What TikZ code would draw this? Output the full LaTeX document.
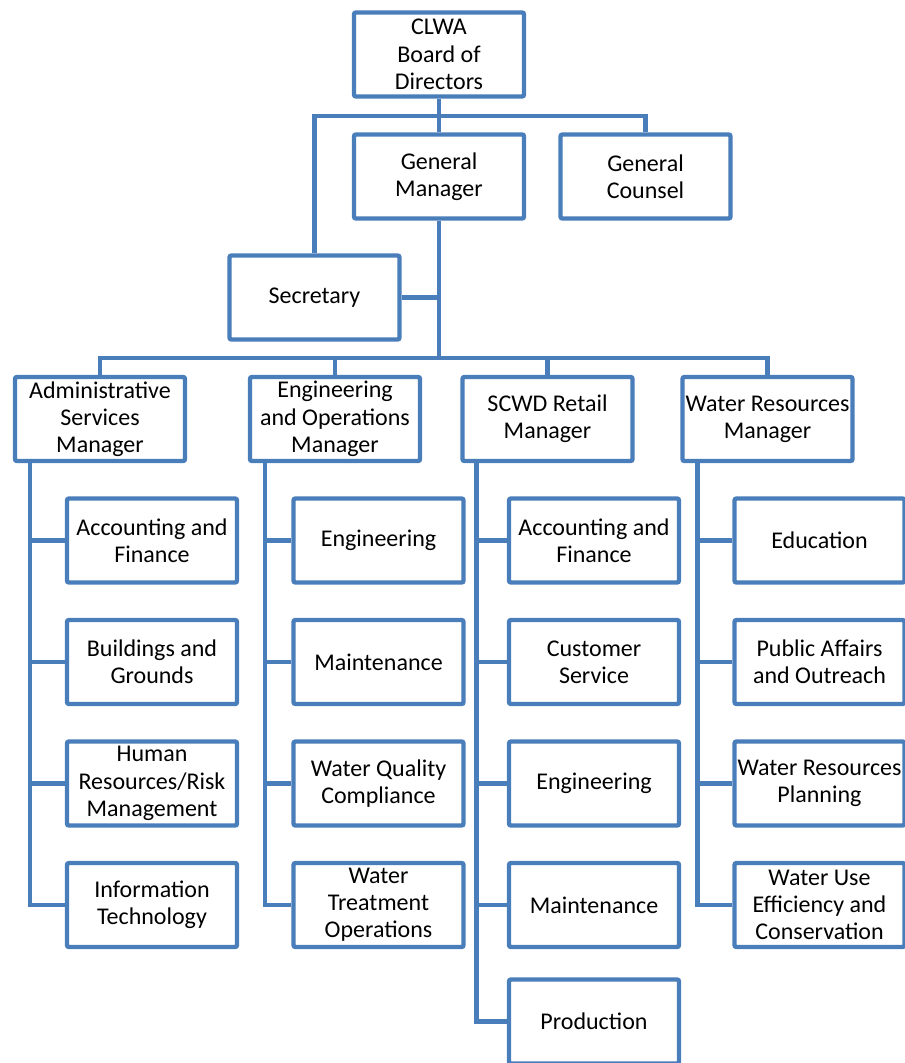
\documentclass[tikz,border=0pt]{standalone}
\usepackage{fontspec}
\setmainfont{Carlito}
\usetikzlibrary{calc}
\definecolor{boxblue}{RGB}{74,126,187}
\tikzset{
  box/.style={rectangle, rounded corners=1pt, draw=boxblue, line width=2.2pt, fill=white,
    minimum width=85pt, minimum height=42pt, inner sep=0pt, align=center,
    font=\fontsize{12}{13.6}\selectfont},
  link/.style={draw=boxblue, line width=2.2pt}
}
\begin{document}
\begin{tikzpicture}[x=0.5pt, y=-0.5pt]
    \useasboundingbox (0,0) rectangle (904,1063);

    \node (board) [box] at (439, 54.5) {CLWA\\Board of\\Directors};
    \node (gm) [box] at (439, 176.5) {General\\Manager};
    \node (counsel) [box] at (645.5, 176.5) {General\\Counsel};
    \node (secretary) [box] at (314.5, 297.5) {Secretary};

    \node (admin) [box] at (100, 419) {Administrative\\Services\\Manager};
    \node (engops) [box] at (335, 419) {Engineering\\and Operations\\Manager};
    \node (retail) [box] at (547.5, 419) {SCWD Retail\\Manager};
    \node (water) [box] at (767.5, 419) {Water Resources\\Manager};

    \node (accfin) [box] at (152, 540.5) {Accounting and\\Finance};
    \node (buildings) [box] at (152, 662) {Buildings and\\Grounds};
    \node (hr) [box] at (152, 783.5) {Human\\Resources/Risk\\Management};
    \node (it) [box] at (152, 905) {Information\\Technology};

    \node (eng) [box] at (378.5, 540.5) {Engineering};
    \node (maint) [box] at (378.5, 662) {Maintenance};
    \node (wqc) [box] at (378.5, 783.5) {Water Quality\\Compliance};
    \node (wto) [box] at (378.5, 905) {Water\\Treatment\\Operations};

    \node (raccfin) [box] at (594, 540.5) {Accounting and\\Finance};
    \node (custserv) [box] at (594, 662) {Customer\\Service};
    \node (reng) [box] at (594, 783.5) {Engineering};
    \node (rmaint) [box] at (594, 905) {Maintenance};
    \node (prod) [box] at (594, 1021.5) {Production};

    \node (edu) [box] at (819.5, 540.5) {Education};
    \node (paffairs) [box] at (819.5, 662) {Public Affairs\\and Outreach};
    \node (wrplan) [box] at (819.5, 783.5) {Water Resources\\Planning};
    \node (wuec) [box] at (819.5, 905) {Water Use\\Efficiency and\\Conservation};

    % Verbindungen oben
    \coordinate (top) at (439, 116);
    \coordinate (bus) at (439, 358);
    \draw[link] (board) -- (gm);
    \draw[link] (secretary.north) |- (top) -| (counsel.north);
    \draw[link] (gm.south) -- (bus);
    \draw[link] (secretary.east) -- (secretary.east -| gm.south);
    \draw[link] (admin.north) |- (bus) -| (water.north);
    \draw[link] (engops.north) -- (engops.north |- bus);
    \draw[link] (retail.north) -- (retail.north |- bus);

    % Spalte 1
    \coordinate (c1) at ($(admin.south west)+(17,0)$);
    \draw[link] (c1) |- (it.west);
    \draw[link] (c1 |- accfin.west) -- (accfin.west);
    \draw[link] (c1 |- buildings.west) -- (buildings.west);
    \draw[link] (c1 |- hr.west) -- (hr.west);

    % Spalte 2
    \coordinate (c2) at ($(engops.south west)+(17,0)$);
    \draw[link] (c2) |- (wto.west);
    \draw[link] (c2 |- eng.west) -- (eng.west);
    \draw[link] (c2 |- maint.west) -- (maint.west);
    \draw[link] (c2 |- wqc.west) -- (wqc.west);

    % Spalte 3
    \coordinate (c3) at ($(retail.south west)+(16,0)$);
    \draw[link] (c3) |- (prod.west);
    \draw[link] (c3 |- raccfin.west) -- (raccfin.west);
    \draw[link] (c3 |- custserv.west) -- (custserv.west);
    \draw[link] (c3 |- reng.west) -- (reng.west);
    \draw[link] (c3 |- rmaint.west) -- (rmaint.west);

    % Spalte 4
    \coordinate (c4) at ($(water.south west)+(17,0)$);
    \draw[link] (c4) |- (wuec.west);
    \draw[link] (c4 |- edu.west) -- (edu.west);
    \draw[link] (c4 |- paffairs.west) -- (paffairs.west);
    \draw[link] (c4 |- wrplan.west) -- (wrplan.west);
\end{tikzpicture}
\end{document}
